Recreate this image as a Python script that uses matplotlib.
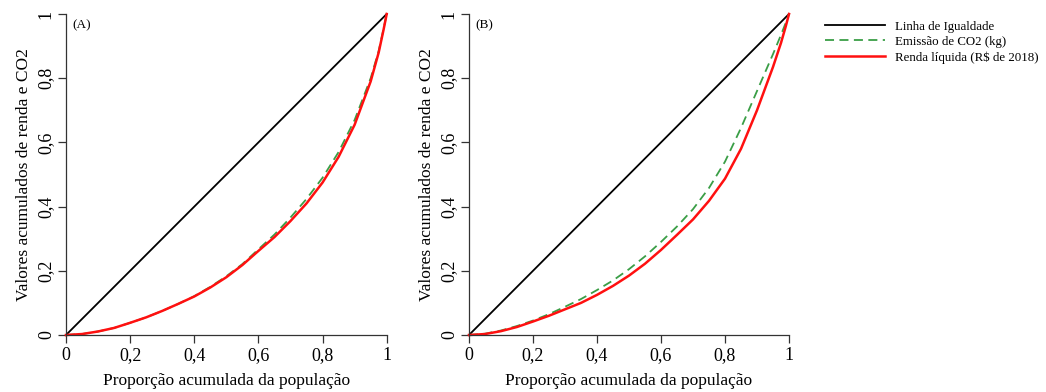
import matplotlib
matplotlib.use("Agg")
import matplotlib.pyplot as plt
from matplotlib.ticker import FuncFormatter

plt.rcParams['font.family'] = ['Liberation Serif', 'DejaVu Serif']

# proporcao acumulada da populacao
pop = [0, 0.05, 0.1, 0.15, 0.2, 0.25, 0.3, 0.35, 0.4, 0.45, 0.5, 0.55,
       0.6, 0.65, 0.7, 0.75, 0.8, 0.85, 0.9, 0.95, 0.975, 0.99, 1]

# painel A
renda_a = [0, 0.003, 0.011, 0.022, 0.038, 0.055, 0.075, 0.097, 0.12, 0.148, 0.18, 0.218,
           0.262, 0.305, 0.355, 0.41, 0.475, 0.555, 0.655, 0.79, 0.88, 0.95, 1]
co2_a = [0, 0.003, 0.011, 0.022, 0.038, 0.055, 0.075, 0.097, 0.121, 0.15, 0.183, 0.221,
         0.267, 0.313, 0.366, 0.424, 0.49, 0.57, 0.67, 0.80, 0.885, 0.953, 1]

# painel B
renda_b = [0, 0.003, 0.012, 0.025, 0.042, 0.06, 0.08, 0.1, 0.125, 0.153, 0.185, 0.222,
           0.265, 0.312, 0.36, 0.418, 0.487, 0.58, 0.70, 0.835, 0.91, 0.962, 1]
co2_b = [0, 0.004, 0.014, 0.028, 0.045, 0.065, 0.088, 0.112, 0.14, 0.17, 0.205, 0.245,
         0.29, 0.338, 0.392, 0.458, 0.54, 0.645, 0.76, 0.875, 0.935, 0.973, 1]

ticks = [0, 0.2, 0.4, 0.6, 0.8, 1]
paineis = ['(A)', '(B)']
nomes = ['Linha de Igualdade', 'Emissão de CO2 (kg)', 'Renda líquida (R$ de 2018)']

W, H = 1046, 392
fig = plt.figure(figsize=(W / 100, H / 100), dpi=100)

def fmt(v, pos):
    if v in (0, 1):
        return '%d' % v
    return ('%.1f' % v).replace('.', ',')

caixas = [(66, 386.7), (469, 789)]
dados = [(renda_a, co2_a), (renda_b, co2_b)]
for (x0, x1), (renda, co2), rot in zip(caixas, dados, paineis):
    ax = fig.add_axes([x0 / W, 1 - 335 / H, (x1 - x0) / W, (335 - 14) / H])
    ax.plot([0, 1], [0, 1], color='black', lw=1.3, clip_on=False, label=nomes[0])
    ax.plot(pop, co2, color='#3a9e46', lw=1.3, ls=(0, (5, 3)), clip_on=False, label=nomes[1])
    ax.plot(pop, renda, color='#ff1010', lw=1.8, clip_on=False, label=nomes[2])
    ax.set_xlim(0, 1)
    ax.set_ylim(0, 1)
    ax.set_xticks(ticks)
    ax.set_yticks(ticks)
    ax.xaxis.set_major_formatter(FuncFormatter(fmt))
    ax.yaxis.set_major_formatter(FuncFormatter(fmt))
    for s in ['top', 'right']:
        ax.spines[s].set_visible(False)
    for s in ['left', 'bottom']:
        ax.spines[s].set_color('#333333')
        ax.spines[s].set_linewidth(0.9)
    ax.tick_params(length=6, width=0.9, color='#333333', labelsize=13)
    ax.tick_params(axis='x', pad=3)
    ax.tick_params(axis='y', pad=2)
    for lab in ax.get_yticklabels():
        lab.set_rotation(90)
        lab.set_va('center')
    ax.set_xlabel('Proporção acumulada da população', fontsize=12.5, labelpad=6)
    ax.set_ylabel('Valores acumulados de renda e CO2', fontsize=12.5, labelpad=4)
    ax.text(0.02, 0.985, rot, fontsize=9.5, transform=ax.transAxes, va='top', ha='left')

handles, labels = ax.get_legend_handles_labels()
fig.legend(handles, labels, loc='upper left', bbox_to_anchor=(813 / W, 1 - 9 / H),
           frameon=False, fontsize=9.3, handlelength=4.7, handletextpad=0.75,
           labelspacing=0.25)

fig.savefig('out.png', dpi=100)
